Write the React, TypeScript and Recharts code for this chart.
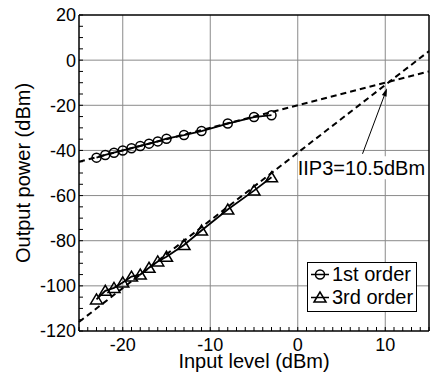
import React from 'react';
import { LineChart, Line, XAxis, YAxis, CartesianGrid, Legend, ReferenceLine, ReferenceDot } from 'recharts';

const inputLevel = [-23, -22, -21, -20, -19, -18, -17, -16, -15, -13, -11, -8, -5, -3];
const firstOrder = [-43.2, -42, -41, -40, -39, -38, -37, -36, -34.8, -33.2, -31.4, -28.1, -25.2, -24.4];
const thirdOrder = [-106, -102.2, -100.9, -98.5, -95.9, -95, -92, -89.2, -87.1, -81.9, -75.5, -66.2, -57.8, -51.9];

// extrapolated fits (dashed)
const fitX = [-25, 15];
const firstFit = [-45, -5];
const thirdFit = [-116, 4];

const xTicks = [-20, -10, 0, 10];
const yTicks = [-120, -100, -80, -60, -40, -20, 0, 20];
const xDomain = [-25, 15];
const yDomain = [-120, 20];

const arrowFrom = { x: 7.4, y: -41.5 };
const arrowTo = { x: 10.2, y: -12.5 };
const noteAt = { x: 0, y: -51 };
const noteText = 'IIP3=10.5dBm';

const font = '"Liberation Sans", Arial, sans-serif';

const xMinor: number[] = [];
for (let v = xDomain[0]; v <= xDomain[1]; v += 1) xMinor.push(v);
const yMinor: number[] = [];
for (let v = yDomain[0]; v <= yDomain[1]; v += 5) yMinor.push(v);

const toPoints = (xs: number[], ys: number[]) => xs.map((x, i) => ({ x, y: ys[i] }));

const firstData = toPoints(inputLevel, firstOrder);
const thirdData = toPoints(inputLevel, thirdOrder);
const firstFitData = toPoints(fitX, firstFit);
const thirdFitData = toPoints(fitX, thirdFit);

const Circle = ({ cx, cy }: any) => (
  <circle cx={cx} cy={cy} r={4.5} fill="none" stroke="#000" strokeWidth={1.5} />
);

const Triangle = ({ cx, cy }: any) => (
  <polygon
    points={`${cx},${cy - 5.5} ${cx - 6},${cy + 4.5} ${cx + 6},${cy + 4.5}`}
    fill="none"
    stroke="#000"
    strokeWidth={1.5}
  />
);

const seriesDefs = [
  { name: '1st order', data: firstData, Marker: Circle },
  { name: '3rd order', data: thirdData, Marker: Triangle },
];

const LegendBox = () => (
  <div
    style={{
      border: '1.5px solid #000',
      background: '#fff',
      width: 110,
      height: 50,
      boxSizing: 'border-box',
      fontFamily: font,
      fontSize: 20,
      color: '#000',
    }}
  >
    {seriesDefs.map(({ name, Marker }) => (
      <div key={name} style={{ display: 'flex', alignItems: 'center', height: 23 }}>
        <svg width={24} height={23}>
          <line x1={3} y1={11.5} x2={21} y2={11.5} stroke="#000" strokeWidth={1.5} />
          <Marker cx={12} cy={11.5} />
        </svg>
        <span style={{ lineHeight: '23px' }}>{name}</span>
      </div>
    ))}
  </div>
);

const Arrow = ({ x1, y1, x2, y2 }: any) => {
  const dx = x2 - x1;
  const dy = y2 - y1;
  const len = Math.sqrt(dx * dx + dy * dy) || 1;
  const ux = dx / len;
  const uy = dy / len;
  const bx = x2 - ux * 8;
  const by = y2 - uy * 8;
  return (
    <g>
      <line x1={x1} y1={y1} x2={bx} y2={by} stroke="#000" strokeWidth={1} />
      <polygon
        points={`${x2},${y2} ${bx - uy * 2.5},${by + ux * 2.5} ${bx + uy * 2.5},${by - ux * 2.5}`}
        fill="#000"
      />
    </g>
  );
};

const Note = ({ cx, cy }: any) => (
  <g>
    <rect x={cx} y={cy - 19} width={130} height={23} fill="#fff" />
    <text x={cx} y={cy} fontFamily={font} fontSize={20} fill="#000">
      {noteText}
    </text>
  </g>
);

const tickStyle = { fontSize: 18, fill: '#000', fontFamily: font };

export default function App() {
  return (
    <div>
      <style>{'body{margin:0}'}</style>
      <LineChart width={430} height={376} margin={{ top: 14, right: 0, left: 19, bottom: 0 }}>
        <CartesianGrid
          stroke="#8a8a8a"
          strokeWidth={1}
          horizontalValues={yTicks.filter((v) => v > yDomain[0] && v < yDomain[1])}
          verticalValues={xTicks}
        />
        <XAxis
          type="number"
          dataKey="x"
          domain={xDomain}
          ticks={xMinor}
          interval={0}
          tickFormatter={(v: number) => (xTicks.includes(v) ? String(v) : '')}
          tickSize={-4}
          tickMargin={11}
          tick={tickStyle}
          height={45}
          stroke="#000"
          axisLine={{ stroke: '#000', strokeWidth: 1.5 }}
          tickLine={{ stroke: '#000' }}
          label={{
            value: 'Input level (dBm)',
            position: 'insideBottom',
            offset: 8,
            style: { fontSize: 20, fill: '#000', fontFamily: font },
          }}
        />
        <XAxis
          xAxisId="top"
          orientation="top"
          type="number"
          domain={xDomain}
          ticks={xMinor}
          interval={0}
          tick={false}
          tickSize={-4}
          height={1}
          axisLine={{ stroke: '#000', strokeWidth: 1.5 }}
          tickLine={{ stroke: '#000' }}
        />
        <YAxis
          type="number"
          domain={yDomain}
          ticks={yMinor}
          interval={0}
          tickFormatter={(v: number) => (yTicks.includes(v) ? String(v) : '')}
          tickSize={-4}
          tickMargin={7}
          tick={tickStyle}
          width={60}
          axisLine={{ stroke: '#000', strokeWidth: 1.5 }}
          tickLine={{ stroke: '#000' }}
          label={{
            value: 'Output power (dBm)',
            angle: -90,
            position: 'insideLeft',
            offset: 4,
            style: { fontSize: 20, fill: '#000', fontFamily: font, textAnchor: 'middle' },
          }}
        />
        <YAxis
          yAxisId="right"
          orientation="right"
          type="number"
          domain={yDomain}
          ticks={yMinor}
          interval={0}
          tick={false}
          tickSize={-4}
          width={1}
          axisLine={{ stroke: '#000', strokeWidth: 1.5 }}
          tickLine={{ stroke: '#000' }}
        />
        <Line
          data={firstFitData}
          dataKey="y"
          name="1st fit"
          stroke="#000"
          strokeWidth={2}
          strokeDasharray="6 4"
          dot={false}
          legendType="none"
          isAnimationActive={false}
        />
        <Line
          data={thirdFitData}
          dataKey="y"
          name="3rd fit"
          stroke="#000"
          strokeWidth={2}
          strokeDasharray="6 4"
          dot={false}
          legendType="none"
          isAnimationActive={false}
        />
        {seriesDefs.map(({ name, data, Marker }) => (
          <Line
            key={name}
            data={data}
            dataKey="y"
            name={name}
            stroke="#000"
            strokeWidth={1.8}
            dot={(p: any) => <Marker key={`${name}-${p.index}`} cx={p.cx} cy={p.cy} />}
            isAnimationActive={false}
          />
        ))}
        <ReferenceDot x={noteAt.x} y={noteAt.y} r={0} shape={(p: any) => <Note cx={p.cx} cy={p.cy} />} />
        <ReferenceLine segment={[arrowFrom, arrowTo]} shape={(p: any) => <Arrow {...p} />} />
        <Legend
          layout="horizontal"
          verticalAlign="middle"
          align="center"
          content={() => <LegendBox />}
          wrapperStyle={{ position: 'absolute', left: 307, top: 262, width: 110, height: 50 }}
        />
      </LineChart>
    </div>
  );
}
